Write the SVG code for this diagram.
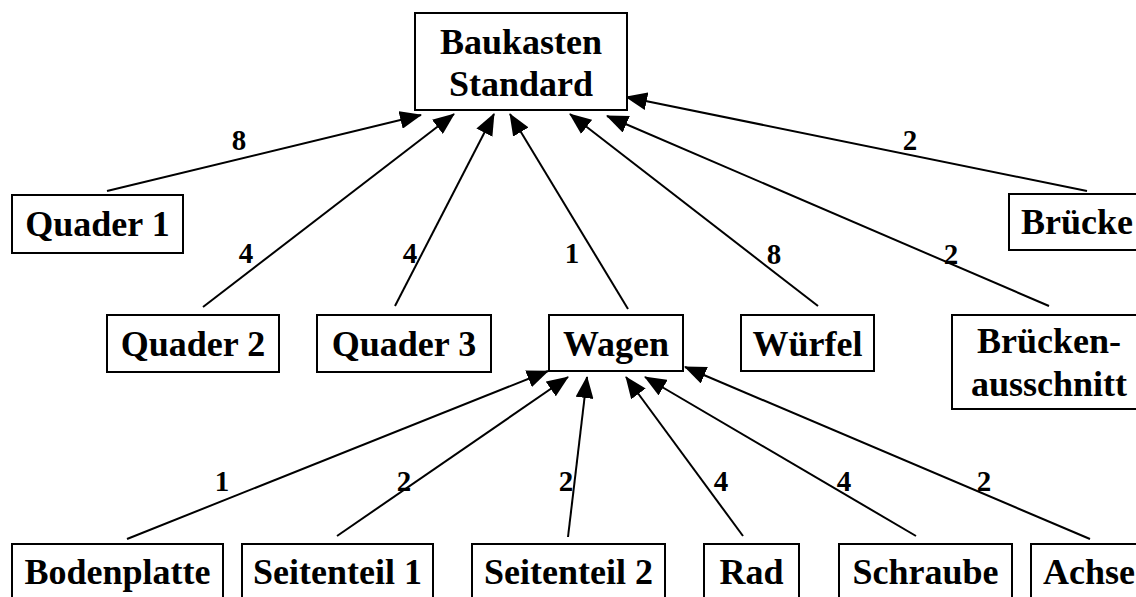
<svg xmlns="http://www.w3.org/2000/svg" width="1136" height="597" viewBox="0 0 1136 597">
  <defs>
    <marker id="arrow" markerUnits="userSpaceOnUse" markerWidth="22" markerHeight="18" viewBox="0 0 22 18" refX="21" refY="9" orient="auto">
      <path d="M0,0 L22,9 L0,18 Z" fill="#000"/>
    </marker>
  </defs>
  <style>
    .box { fill: #fff; stroke: #000; stroke-width: 2; }
    .name { font-family: "Liberation Serif", "Times New Roman", serif; font-weight: bold; font-size: 36px; fill: #000; text-anchor: middle; }
    .qty { font-family: "Liberation Serif", "Times New Roman", serif; font-weight: bold; font-size: 29px; fill: #000; text-anchor: middle; }
    .edge { stroke: #000; stroke-width: 2; fill: none; marker-end: url(#arrow); }
  </style>
  <rect width="1136" height="597" fill="#fff"/>

  <!-- part-of relations: child → parent, with quantities -->
  <g id="connectors">
    <line class="edge" x1="107" y1="191" x2="421" y2="115"/>
    <line class="edge" x1="203" y1="307" x2="454" y2="114"/>
    <line class="edge" x1="395" y1="306" x2="494" y2="114"/>
    <line class="edge" x1="628" y1="309" x2="510" y2="114"/>
    <line class="edge" x1="818" y1="306" x2="570" y2="114"/>
    <line class="edge" x1="1049" y1="306" x2="607" y2="116"/>
    <line class="edge" x1="1087" y1="191" x2="626" y2="97"/>

    <line class="edge" x1="127" y1="539" x2="548" y2="371"/>
    <line class="edge" x1="337" y1="536" x2="568" y2="377"/>
    <line class="edge" x1="568" y1="537" x2="587" y2="377"/>
    <line class="edge" x1="743" y1="536" x2="626" y2="377"/>
    <line class="edge" x1="916" y1="536" x2="645" y2="377"/>
    <line class="edge" x1="1090" y1="539" x2="685" y2="367"/>

    <text class="qty" x="239" y="150">8</text>
    <text class="qty" x="246" y="263">4</text>
    <text class="qty" x="410" y="263">4</text>
    <text class="qty" x="572" y="263">1</text>
    <text class="qty" x="774" y="264">8</text>
    <text class="qty" x="951" y="264">2</text>
    <text class="qty" x="910" y="150">2</text>

    <text class="qty" x="222" y="491">1</text>
    <text class="qty" x="404" y="491">2</text>
    <text class="qty" x="566" y="491">2</text>
    <text class="qty" x="721" y="491">4</text>
    <text class="qty" x="844" y="491">4</text>
    <text class="qty" x="984" y="491">2</text>
  </g>

  <g id="baukasten">
    <rect class="box" x="415" y="13" width="212" height="97"/>
    <text class="name" x="521" y="54">Baukasten</text>
    <text class="name" x="521" y="96">Standard</text>
  </g>

  <g id="quader1">
    <rect class="box" x="12" y="195" width="171" height="58"/>
    <text class="name" x="97.5" y="236">Quader 1</text>
  </g>
  <g id="bruecke">
    <rect class="box" x="1009" y="194" width="140" height="56"/>
    <text class="name" x="1077" y="234">Brücke</text>
  </g>

  <g id="quader2">
    <rect class="box" x="107" y="315" width="172" height="57"/>
    <text class="name" x="193" y="356">Quader 2</text>
  </g>
  <g id="quader3">
    <rect class="box" x="317" y="315" width="174" height="57"/>
    <text class="name" x="404" y="356">Quader 3</text>
  </g>
  <g id="wagen">
    <rect class="box" x="549" y="315" width="134" height="56"/>
    <text class="name" x="616" y="356">Wagen</text>
  </g>
  <g id="wuerfel">
    <rect class="box" x="741" y="315" width="133" height="56"/>
    <text class="name" x="807.5" y="356">Würfel</text>
  </g>
  <g id="brueckenausschnitt">
    <rect class="box" x="952" y="315" width="195" height="94"/>
    <text class="name" x="1049" y="353">Brücken-</text>
    <text class="name" x="1049" y="396">ausschnitt</text>
  </g>

  <g id="bodenplatte">
    <rect class="box" x="12" y="544" width="211" height="60"/>
    <text class="name" x="117.5" y="584">Bodenplatte</text>
  </g>
  <g id="seitenteil1">
    <rect class="box" x="242" y="544" width="191" height="60"/>
    <text class="name" x="337.5" y="584">Seitenteil 1</text>
  </g>
  <g id="seitenteil2">
    <rect class="box" x="472" y="544" width="193" height="60"/>
    <text class="name" x="568.5" y="584">Seitenteil 2</text>
  </g>
  <g id="rad">
    <rect class="box" x="704" y="544" width="95" height="60"/>
    <text class="name" x="751.5" y="584">Rad</text>
  </g>
  <g id="schraube">
    <rect class="box" x="839" y="544" width="173" height="60"/>
    <text class="name" x="925.5" y="584">Schraube</text>
  </g>
  <g id="achse">
    <rect class="box" x="1031" y="544" width="118" height="60"/>
    <text class="name" x="1089" y="584">Achse</text>
  </g>
</svg>
